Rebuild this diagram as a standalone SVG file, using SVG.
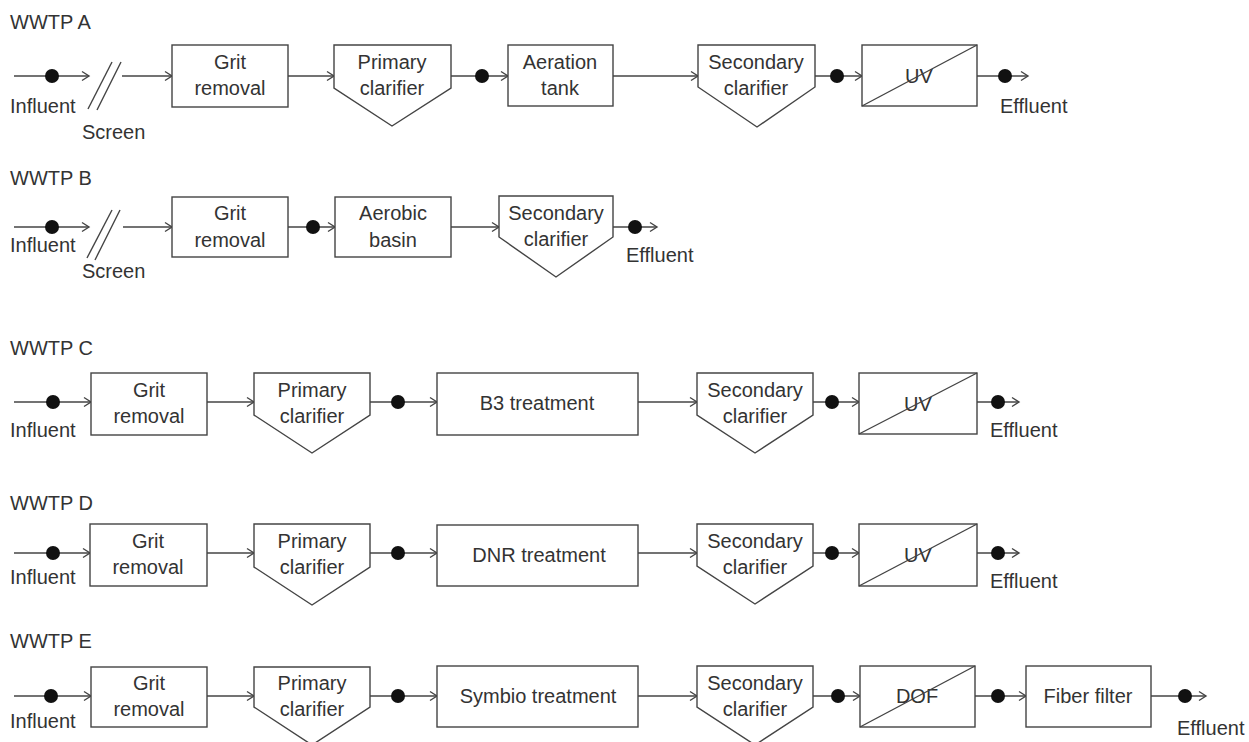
<svg xmlns="http://www.w3.org/2000/svg" width="1249" height="742" viewBox="0 0 1249 742">
<style>
  .box{fill:#fff;stroke:#444;stroke-width:1.4}
  .diag{stroke:#444;stroke-width:1.4;fill:none}
  .ln{stroke:#444;stroke-width:1.4;fill:none}
  .arr{marker-end:url(#ah)}
  .dot{fill:#111}
  text{font-family:"Liberation Sans",Arial,Helvetica,sans-serif;font-size:20px;fill:#333}
  .c{text-anchor:middle}
</style>
<defs>
  <marker id="ah" markerUnits="userSpaceOnUse" markerWidth="12" markerHeight="12" refX="9" refY="6" orient="auto">
    <path d="M2,1.5 L9,6 L2,10.5" fill="none" stroke="#444" stroke-width="1.4"/>
  </marker>
</defs>

<!-- Titles -->
<g id="titles">
  <text x="10" y="29">WWTP A</text>
  <text x="10" y="185">WWTP B</text>
  <text x="10" y="355">WWTP C</text>
  <text x="10" y="510">WWTP D</text>
  <text x="10" y="648">WWTP E</text>
</g>

<!-- Connectors -->
<g id="connectors">
  <!-- Row A y=76 -->
  <line class="ln arr" x1="14" y1="76" x2="89" y2="76"/>
  <line class="ln" x1="88" y1="109" x2="112" y2="62"/>
  <line class="ln" x1="97" y1="110" x2="121" y2="62"/>
  <line class="ln arr" x1="122" y1="76" x2="172" y2="76"/>
  <line class="ln arr" x1="288" y1="76" x2="334" y2="76"/>
  <line class="ln arr" x1="451" y1="76" x2="508" y2="76"/>
  <line class="ln arr" x1="613" y1="76" x2="698" y2="76"/>
  <line class="ln arr" x1="815" y1="76" x2="862" y2="76"/>
  <line class="ln arr" x1="977" y1="76" x2="1028" y2="76"/>
  <!-- Row B y=227 -->
  <line class="ln arr" x1="14" y1="227" x2="89" y2="227"/>
  <line class="ln" x1="87" y1="258" x2="112" y2="210"/>
  <line class="ln" x1="95" y1="260" x2="120" y2="210"/>
  <line class="ln arr" x1="123" y1="227" x2="172" y2="227"/>
  <line class="ln arr" x1="288" y1="227" x2="335" y2="227"/>
  <line class="ln arr" x1="451" y1="227" x2="499" y2="227"/>
  <line class="ln arr" x1="613" y1="227" x2="657" y2="227"/>
  <!-- Row C y=402 -->
  <line class="ln arr" x1="14" y1="402" x2="91" y2="402"/>
  <line class="ln arr" x1="207" y1="402" x2="254" y2="402"/>
  <line class="ln arr" x1="370" y1="402" x2="437" y2="402"/>
  <line class="ln arr" x1="638" y1="402" x2="697" y2="402"/>
  <line class="ln arr" x1="813" y1="402" x2="859" y2="402"/>
  <line class="ln arr" x1="977" y1="402" x2="1019" y2="402"/>
  <!-- Row D y=553 -->
  <line class="ln arr" x1="14" y1="553" x2="90" y2="553"/>
  <line class="ln arr" x1="207" y1="553" x2="254" y2="553"/>
  <line class="ln arr" x1="370" y1="553" x2="437" y2="553"/>
  <line class="ln arr" x1="638" y1="553" x2="697" y2="553"/>
  <line class="ln arr" x1="813" y1="553" x2="859" y2="553"/>
  <line class="ln arr" x1="977" y1="553" x2="1019" y2="553"/>
  <!-- Row E y=696 -->
  <line class="ln arr" x1="14" y1="696" x2="91" y2="696"/>
  <line class="ln arr" x1="207" y1="696" x2="254" y2="696"/>
  <line class="ln arr" x1="370" y1="696" x2="437" y2="696"/>
  <line class="ln arr" x1="638" y1="696" x2="697" y2="696"/>
  <line class="ln arr" x1="813" y1="696" x2="860" y2="696"/>
  <line class="ln arr" x1="975" y1="696" x2="1026" y2="696"/>
  <line class="ln arr" x1="1151" y1="696" x2="1206" y2="696"/>
</g>

<!-- Sampling points -->
<g id="samples">
  <circle class="dot" cx="52" cy="76" r="7"/>
  <circle class="dot" cx="482" cy="76" r="7"/>
  <circle class="dot" cx="837" cy="76" r="7"/>
  <circle class="dot" cx="1005" cy="76" r="7"/>
  <circle class="dot" cx="52" cy="227" r="7"/>
  <circle class="dot" cx="313" cy="227" r="7"/>
  <circle class="dot" cx="635" cy="227" r="7"/>
  <circle class="dot" cx="53" cy="402" r="7"/>
  <circle class="dot" cx="398" cy="402" r="7"/>
  <circle class="dot" cx="832" cy="402" r="7"/>
  <circle class="dot" cx="998" cy="402" r="7"/>
  <circle class="dot" cx="53" cy="553" r="7"/>
  <circle class="dot" cx="398" cy="553" r="7"/>
  <circle class="dot" cx="832" cy="553" r="7"/>
  <circle class="dot" cx="998" cy="553" r="7"/>
  <circle class="dot" cx="51" cy="696" r="7"/>
  <circle class="dot" cx="398" cy="696" r="7"/>
  <circle class="dot" cx="838" cy="696" r="7"/>
  <circle class="dot" cx="998" cy="696" r="7"/>
  <circle class="dot" cx="1185" cy="696" r="7"/>
</g>

<!-- Side labels -->
<g id="labels">
  <text x="10" y="113">Influent</text>
  <text x="82" y="139">Screen</text>
  <text x="1000" y="113">Effluent</text>
  <text x="10" y="252">Influent</text>
  <text x="82" y="278">Screen</text>
  <text x="626" y="262">Effluent</text>
  <text x="10" y="437">Influent</text>
  <text x="990" y="437">Effluent</text>
  <text x="10" y="584">Influent</text>
  <text x="990" y="588">Effluent</text>
  <text x="10" y="728">Influent</text>
  <text x="1177" y="735">Effluent</text>
</g>

<!-- Row A -->
<g id="A-grit"><rect class="box" x="172" y="45" width="116" height="62"/><text class="c" x="230" y="69">Grit</text><text class="c" x="230" y="95">removal</text></g>
<g id="A-primary"><polygon class="box" points="334,45 451,45 451,88 392,126 334,88"/><text class="c" x="392" y="69">Primary</text><text class="c" x="392" y="95">clarifier</text></g>
<g id="A-aeration"><rect class="box" x="508" y="45" width="105" height="61"/><text class="c" x="560" y="69">Aeration</text><text class="c" x="560" y="95">tank</text></g>
<g id="A-secondary"><polygon class="box" points="698,45 815,45 815,87 757,127 698,87"/><text class="c" x="756" y="69">Secondary</text><text class="c" x="756" y="95">clarifier</text></g>
<g id="A-uv"><rect class="box" x="862" y="45" width="115" height="61"/><text class="c" x="919" y="83">UV</text><line class="diag" x1="862" y1="106" x2="977" y2="45"/></g>

<!-- Row B -->
<g id="B-grit"><rect class="box" x="172" y="197" width="116" height="60"/><text class="c" x="230" y="220">Grit</text><text class="c" x="230" y="247">removal</text></g>
<g id="B-aerobic"><rect class="box" x="335" y="197" width="116" height="60"/><text class="c" x="393" y="220">Aerobic</text><text class="c" x="393" y="247">basin</text></g>
<g id="B-secondary"><polygon class="box" points="499,196 613,196 613,237 556,277 499,237"/><text class="c" x="556" y="220">Secondary</text><text class="c" x="556" y="246">clarifier</text></g>

<!-- Row C -->
<g id="C-grit"><rect class="box" x="91" y="373" width="116" height="62"/><text class="c" x="149" y="397">Grit</text><text class="c" x="149" y="423">removal</text></g>
<g id="C-primary"><polygon class="box" points="254,373 370,373 370,415 312,453 254,415"/><text class="c" x="312" y="397">Primary</text><text class="c" x="312" y="423">clarifier</text></g>
<g id="C-b3"><rect class="box" x="437" y="373" width="201" height="62"/><text class="c" x="537" y="410">B3 treatment</text></g>
<g id="C-secondary"><polygon class="box" points="697,373 813,373 813,415 755,453 697,415"/><text class="c" x="755" y="397">Secondary</text><text class="c" x="755" y="423">clarifier</text></g>
<g id="C-uv"><rect class="box" x="859" y="373" width="118" height="61"/><text class="c" x="918" y="411">UV</text><line class="diag" x1="859" y1="434" x2="977" y2="373"/></g>

<!-- Row D -->
<g id="D-grit"><rect class="box" x="90" y="524" width="117" height="62"/><text class="c" x="148" y="548">Grit</text><text class="c" x="148" y="574">removal</text></g>
<g id="D-primary"><polygon class="box" points="254,524 370,524 370,567 312,605 254,567"/><text class="c" x="312" y="548">Primary</text><text class="c" x="312" y="574">clarifier</text></g>
<g id="D-dnr"><rect class="box" x="437" y="525" width="201" height="61"/><text class="c" x="539" y="562">DNR treatment</text></g>
<g id="D-secondary"><polygon class="box" points="697,524 813,524 813,566 755,604 697,566"/><text class="c" x="755" y="548">Secondary</text><text class="c" x="755" y="574">clarifier</text></g>
<g id="D-uv"><rect class="box" x="859" y="524" width="118" height="62"/><text class="c" x="918" y="562">UV</text><line class="diag" x1="859" y1="586" x2="977" y2="524"/></g>

<!-- Row E -->
<g id="E-grit"><rect class="box" x="91" y="667" width="116" height="60"/><text class="c" x="149" y="690">Grit</text><text class="c" x="149" y="716">removal</text></g>
<g id="E-primary"><polygon class="box" points="254,667 370,667 370,707 312,745 254,707"/><text class="c" x="312" y="690">Primary</text><text class="c" x="312" y="716">clarifier</text></g>
<g id="E-symbio"><rect class="box" x="437" y="666" width="201" height="61"/><text class="c" x="538" y="703">Symbio treatment</text></g>
<g id="E-secondary"><polygon class="box" points="697,666 813,666 813,707 755,745 697,707"/><text class="c" x="755" y="690">Secondary</text><text class="c" x="755" y="716">clarifier</text></g>
<g id="E-dof"><rect class="box" x="860" y="666" width="115" height="61"/><text class="c" x="917" y="703">DOF</text><line class="diag" x1="860" y1="727" x2="975" y2="666"/></g>
<g id="E-fiber"><rect class="box" x="1026" y="666" width="125" height="61"/><text class="c" x="1088" y="703">Fiber filter</text></g>
</svg>
